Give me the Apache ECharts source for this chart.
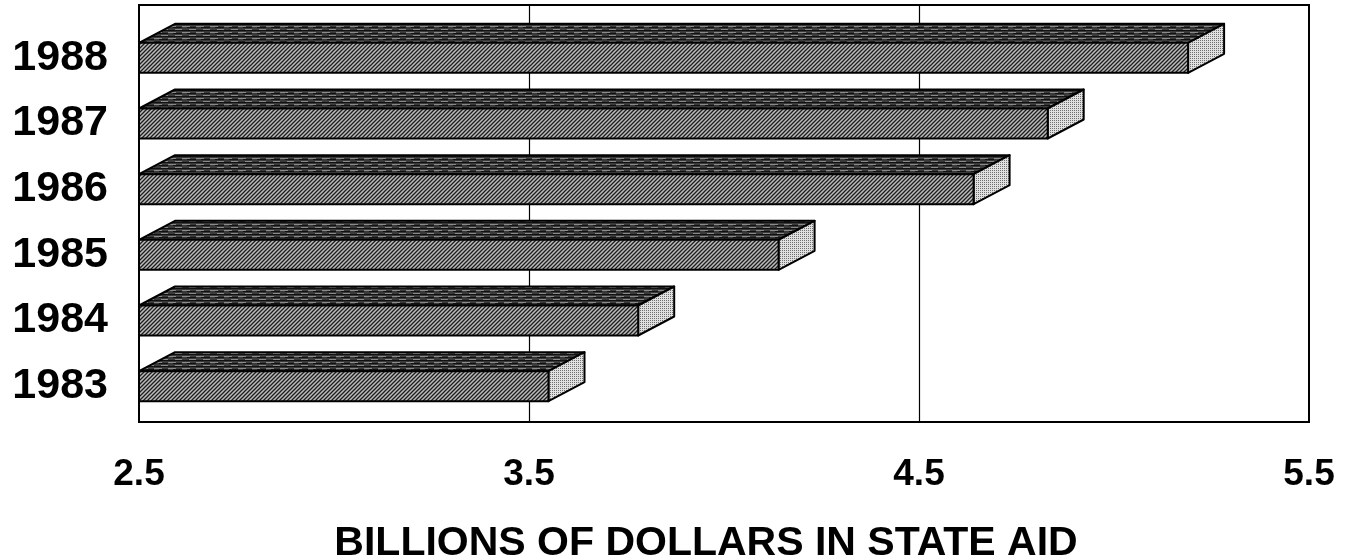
<!DOCTYPE html>
<html lang="en">
<head>
    <meta charset="UTF-8">
    <title>State aid</title>
    <script src="https://cdn.jsdelivr.net/npm/echarts@6/dist/echarts.min.js"></script>
    <style>
        html, body { margin: 0; padding: 0; background: #fff; }
        #chart { width: 1353px; height: 560px; }
    </style>
</head>
<body>
<div id="chart"></div>
<script type="text/javascript">
    // data
    var years = ['1983', '1984', '1985', '1986', '1987', '1988'];
    var stateAid = [3.55, 3.78, 4.14, 4.64, 4.83, 5.19];
    var tickValues = [2.5, 3.5, 4.5, 5.5];
    var gridLines = [3.5, 4.5];

    // little canvas patterns for the three faces
    function makePattern(w, h, draw) {
        var c = document.createElement('canvas');
        c.width = w; c.height = h;
        draw(c.getContext('2d'));
        return { image: c, repeat: 'repeat' };
    }
    var frontFill = makePattern(4, 4, function (ctx) {
        ctx.fillStyle = '#bdbdbd';
        ctx.fillRect(0, 0, 4, 4);
        ctx.strokeStyle = '#1e1e1e';
        ctx.lineWidth = 1.3;
        ctx.beginPath();
        ctx.moveTo(-1, 5); ctx.lineTo(5, -1);
        ctx.moveTo(-1, 1); ctx.lineTo(1, -1);
        ctx.moveTo(3, 5); ctx.lineTo(5, 3);
        ctx.stroke();
    });
    var topFill = makePattern(14, 6, function (ctx) {
        ctx.fillStyle = '#3a3a3a';
        ctx.fillRect(0, 0, 14, 6);
        ctx.fillStyle = '#111';
        ctx.fillRect(0, 0, 14, 1);
        ctx.fillRect(5, 3, 9, 1);
        ctx.fillStyle = '#8a8a8a';
        ctx.fillRect(0, 2, 8, 1);
        ctx.fillRect(7, 5, 7, 1);
    });
    var sideFill = makePattern(2, 2, function (ctx) {
        ctx.fillStyle = '#e0e0e0';
        ctx.fillRect(0, 0, 2, 2);
        ctx.fillStyle = '#707070';
        ctx.fillRect(0, 0, 1, 1);
    });

    var FONT = '"Liberation Sans", Arial, Helvetica, sans-serif';
    var barHalf = 15, depthX = 36, depthY = 19;

    function renderBar(params, api) {
        var cat = api.value(1);
        var start = api.coord([2.5, cat]);
        var end = api.coord([api.value(0), cat]);
        var x0 = start[0], x1 = end[0];
        var yT = end[1] - barHalf, yB = end[1] + barHalf;
        var edge = { stroke: '#000', lineWidth: 2, lineJoin: 'round' };
        return {
            type: 'group',
            children: [
                {
                    type: 'polygon',
                    shape: { points: [[x0, yT], [x0 + depthX, yT - depthY], [x1 + depthX, yT - depthY], [x1, yT]] },
                    style: Object.assign({ fill: topFill }, edge)
                },
                {
                    type: 'polygon',
                    shape: { points: [[x1, yT], [x1 + depthX, yT - depthY], [x1 + depthX, yB - depthY], [x1, yB]] },
                    style: Object.assign({ fill: sideFill }, edge)
                },
                {
                    type: 'rect',
                    shape: { x: x0, y: yT, width: x1 - x0, height: yB - yT },
                    style: Object.assign({ fill: frontFill }, edge)
                }
            ]
        };
    }

    var chart = echarts.init(document.getElementById('chart'));
    chart.setOption({
        backgroundColor: '#fff',
        animation: false,
        title: {
            text: 'BILLIONS OF DOLLARS IN STATE AID',
            left: 701,
            top: 518,
            textAlign: 'center',
            textStyle: { fontFamily: FONT, fontWeight: 'bold', fontSize: 41, color: '#000' }
        },
        grid: [
            { left: 139, right: 44, top: 5, bottom: 138, show: true, borderColor: '#000', borderWidth: 2, backgroundColor: 'transparent' },
            { left: 139, right: 44, top: 25, bottom: 141 }
        ],
        xAxis: [
            {
                gridIndex: 0, type: 'value', min: 2.5, max: 5.5, interval: 0.5,
                axisLine: { show: false }, axisTick: { show: false }, splitLine: { show: false },
                axisLabel: {
                    margin: 34, color: '#000', fontFamily: FONT, fontWeight: 'bold', fontSize: 37,
                    showMinLabel: true, showMaxLabel: true,
                    formatter: function (v) {
                        for (var i = 0; i < tickValues.length; i++) {
                            if (Math.abs(tickValues[i] - v) < 1e-6) return tickValues[i].toFixed(1);
                        }
                        return '';
                    }
                }
            },
            {
                gridIndex: 1, type: 'value', min: 2.5, max: 5.5, show: false
            }
        ],
        yAxis: [
            { gridIndex: 0, type: 'value', show: false },
            {
                gridIndex: 1, type: 'category', data: years,
                axisLine: { show: false }, axisTick: { show: false },
                axisLabel: { margin: 31, color: '#000', fontFamily: FONT, fontWeight: 'bold', fontSize: 43 }
            }
        ],
        series: [
            {
                type: 'line', xAxisIndex: 0, yAxisIndex: 0, data: [], z: 1,
                markLine: {
                    silent: true, symbol: 'none', label: { show: false },
                    lineStyle: { color: '#000', width: 1.2, type: 'solid' },
                    data: gridLines.map(function (v) { return { xAxis: v }; })
                }
            },
            {
                type: 'custom', xAxisIndex: 1, yAxisIndex: 1, z: 5,
                renderItem: renderBar,
                encode: { x: 0, y: 1 },
                data: years.map(function (y, i) { return [stateAid[i], y]; })
            }
        ]
    });
</script>
</body>
</html>
